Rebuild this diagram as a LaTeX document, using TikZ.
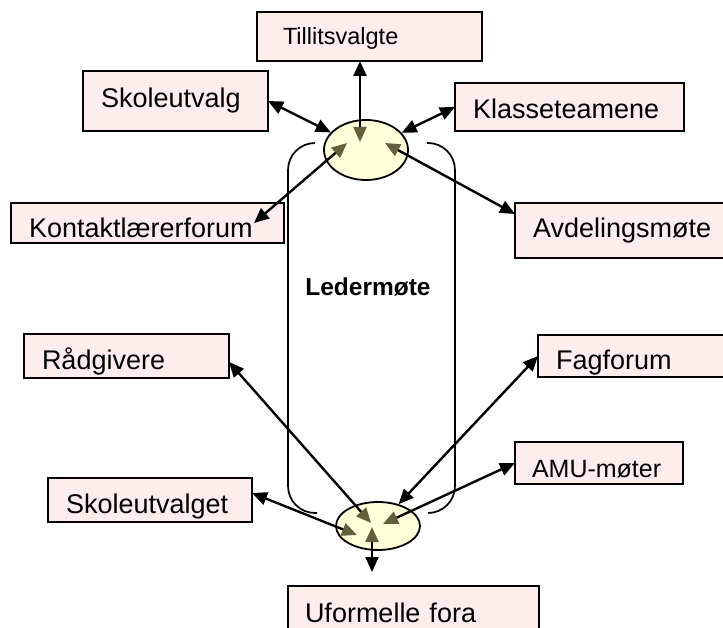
\documentclass[tikz,border=0pt]{standalone}
\usepackage{fontspec}
\setmainfont{Liberation Sans}
\usetikzlibrary{shapes.geometric,arrows.meta}
\definecolor{boxpink}{RGB}{253,237,237}
\definecolor{hubyellow}{RGB}{255,255,217}
\definecolor{olivehead}{RGB}{96,96,62}
\tikzset{
  blk/.tip={Triangle[length=15pt,width=13pt]},
  olv/.tip={Triangle[length=15pt,width=13pt,color=olivehead]}
}

\begin{document}
\begin{tikzpicture}[x=1pt, y=-1pt,
    box/.style={rectangle, draw, fill=boxpink, line width=2.3pt, anchor=north west, outer sep=0pt,
      inner xsep=18pt, inner ysep=0pt, align=left, text depth=0pt, font=\fontsize{27}{30}\selectfont},
    hub/.style={ellipse, draw, fill=hubyellow, line width=1.8pt, minimum width=84pt, inner sep=0pt},
    link/.style={line width=2.4pt}]
  \useasboundingbox (0,0) rectangle (723,628);

  % Ledermote brackets
  \draw[line width=1.7pt, rounded corners=27pt] (315,143) -- (288,143) -- (288,513) -- (317,513);
  \draw[line width=1.7pt, rounded corners=27pt] (427,143) -- (455,143) -- (455,513) -- (428,513);
  \node[font=\bfseries\fontsize{24.5}{28}\selectfont] (leder) at (368,287) {Ledermøte};

  % Boxes round the top
  \node[box, inner xsep=26pt, minimum width=225pt, minimum height=49pt, text width=173pt, text height=17pt,
    font=\fontsize{23.5}{26}\selectfont] (tillit) at (257,12) {Tillitsvalgte};
  \node[box, minimum width=185pt, minimum height=60pt, text width=149pt, text height=14pt] (skoleutvalg) at (83,71) {Skoleutvalg};
  \node[box, minimum width=229pt, minimum height=48pt, text width=193pt, text height=24pt] (klasse) at (455,83) {Klasseteamene};
  \node[box, minimum width=273pt, minimum height=40pt, text width=237pt, text height=30pt] (kontakt) at (11,203) {Kontaktlærerforum};
  \node[box, minimum width=220pt, minimum height=55pt, text width=184pt, text height=15pt] (avdeling) at (515,203) {Avdelingsmøte};

  % Boxes round the bottom
  \node[box, minimum width=205pt, minimum height=44pt, text width=169pt, text height=26pt] (raad) at (24,334) {Rådgivere};
  \node[box, minimum width=195pt, minimum height=42pt, text width=159pt, text height=26pt] (fag) at (538,335) {Fagforum};
  \node[box, inner xsep=17pt, minimum width=168pt, minimum height=42pt, text width=134pt, text height=28pt,
    font=\fontsize{25}{28}\selectfont] (amu) at (515,442) {AMU-møter};
  \node[box, minimum width=204pt, minimum height=44pt, text width=168pt, text height=26pt] (skoleutvalget) at (48,478) {Skoleutvalget};
  \node[box, inner xsep=17pt, minimum width=251pt, minimum height=60pt, text width=217pt, text height=12pt] (uform) at (288,586) {Uformelle fora};

  % Meeting points
  \node[hub, minimum height=60pt] (top) at (366,150) {};
  \node[hub, minimum height=48pt] (bot) at (378,526) {};

  % Tip points inside the meeting points
  \coordinate (a1) at (360,142);
  \coordinate (a4) at (347,143);
  \coordinate (a5) at (385,143);
  \coordinate (b6) at (371,523);
  \coordinate (b7) at (357,535);
  \coordinate (b8) at (372,527);
  \coordinate (b10) at (383,524);
  \coordinate (u8) at (372,572);

  % Connections, top
  \draw[link, olv-blk] (a1) -- (tillit.south -| a1);
  \draw[link, blk-blk] (skoleutvalg.east) -- (top);
  \draw[link, blk-blk] (klasse.west) -- (top);
  \draw[link, olv-blk] (a4) -- ([xshift=-30pt]kontakt.east);
  \draw[link, olv-blk] (a5) -- ([yshift=-11pt]avdeling.north west);

  % Connections, bottom
  \draw[link, olv-blk] (b6) -- ([yshift=-6pt]raad.east);
  \draw[link, olv-blk] (b7) -- ([yshift=7pt]skoleutvalget.east);
  \draw[link, olv-blk] (b8) -- (u8);
  \draw[link, blk-blk] (fag.west) -- (bot);
  \draw[link, olv-blk] (b10) -- (amu.west);
\end{tikzpicture}
\end{document}
